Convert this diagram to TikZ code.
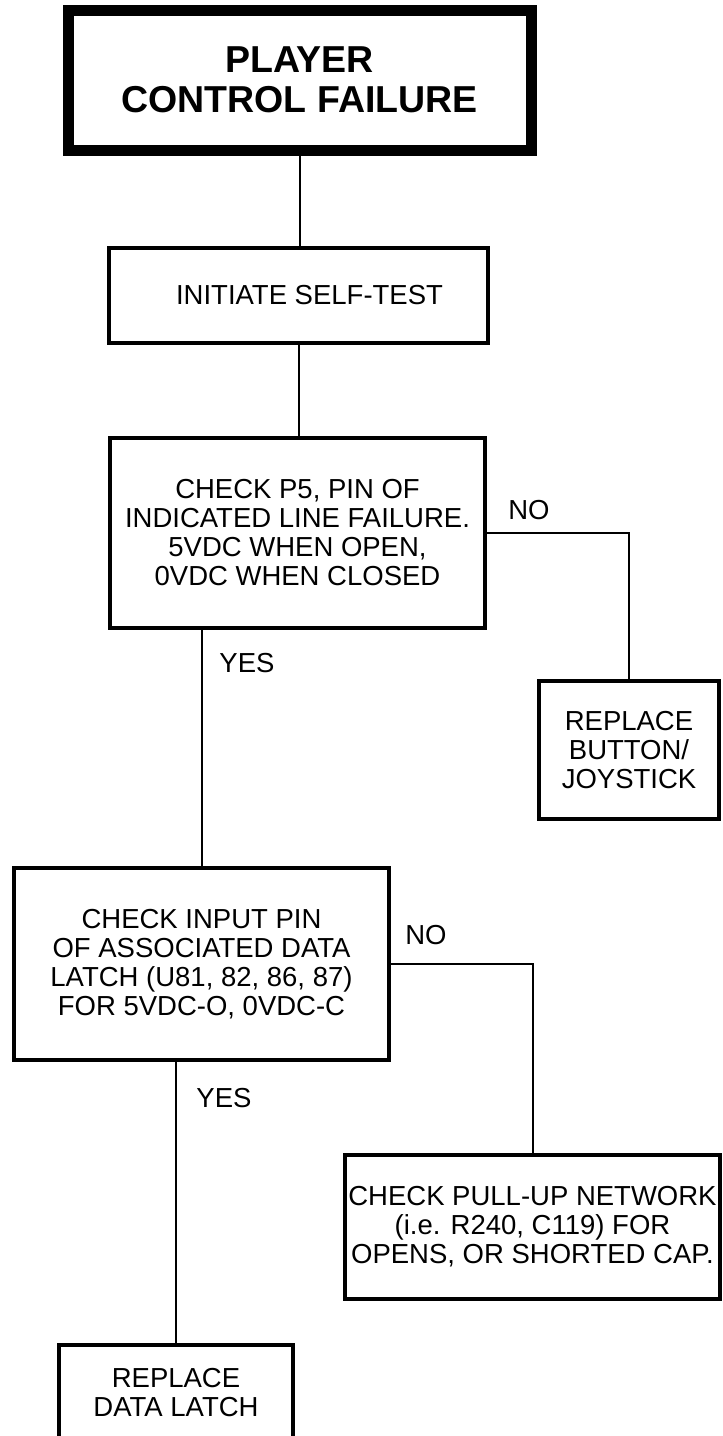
\documentclass[tikz,border=0pt]{standalone}
\usepackage{fontspec}
\setmainfont{Liberation Sans}

\begin{document}
\begin{tikzpicture}[x=1pt,y=-1pt,
  titlebox/.style={draw,line width=11pt,inner sep=0pt,align=center,
    font=\fontsize{37.5}{40}\selectfont\bfseries},
  testbox/.style={draw,line width=3.6pt,inner sep=0pt,align=center,
    font=\fontsize{27.5}{29}\selectfont},
  answer/.style={font=\fontsize{27.5}{29}\selectfont},
  wire/.style={line width=2pt}]

\useasboundingbox (0,0) rectangle (723,1436);
\clip (0,0) rectangle (723,1436);


\node[titlebox,minimum width=463pt,minimum height=140pt] (fail) at (299.5,80)
{PLAYER\\CONTROL FAILURE};

\node[testbox,minimum width=379pt,minimum height=95pt] (selftest) at (298.5,295.5)
{\hspace*{22pt}INITIATE SELF-TEST};

\node[testbox,minimum width=375pt,minimum height=190pt] (pfive) at (297.5,533)
{CHECK P5, PIN OF\\INDICATED LINE FAILURE.\\5VDC WHEN OPEN,\\0VDC WHEN CLOSED};

\node[testbox,minimum width=180pt,minimum height=138pt] (button) at (629,750)
{REPLACE\\BUTTON/\\JOYSTICK};

\node[testbox,minimum width=375pt,minimum height=192pt] (input) at (201.5,964)
{CHECK INPUT PIN\\OF ASSOCIATED DATA\\LATCH (U81, 82, 86, 87)\\FOR 5VDC-O, 0VDC-C};

\node[testbox,minimum width=375pt,minimum height=144pt] (pullup) at (532.5,1227)
{CHECK PULL-UP NETWORK\\(i.e. R240, C119) FOR\\OPENS, OR SHORTED CAP.};

\node[testbox,minimum width=234pt,minimum height=96pt] (latch) at (176,1393)
{REPLACE\\DATA LATCH};


\draw[wire] (fail.south) -- (fail.south |- selftest.north);
\draw[wire] (selftest.south) -- (selftest.south |- pfive.north);

\draw[wire] (pfive.east) -| (button.north);
\draw[wire] (input.north |- pfive.south) -- (input.north);

\draw[wire] (input.east) -| (pullup.north);
\draw[wire] (latch.north |- input.south) -- (latch.north);

\node[answer] (no1) at (529,510) {NO};
\node[answer] (yes1) at (247,663) {YES};
\node[answer] (no2) at (426,935) {NO};
\node[answer] (yes2) at (224,1098) {YES};

\end{tikzpicture}
\end{document}
